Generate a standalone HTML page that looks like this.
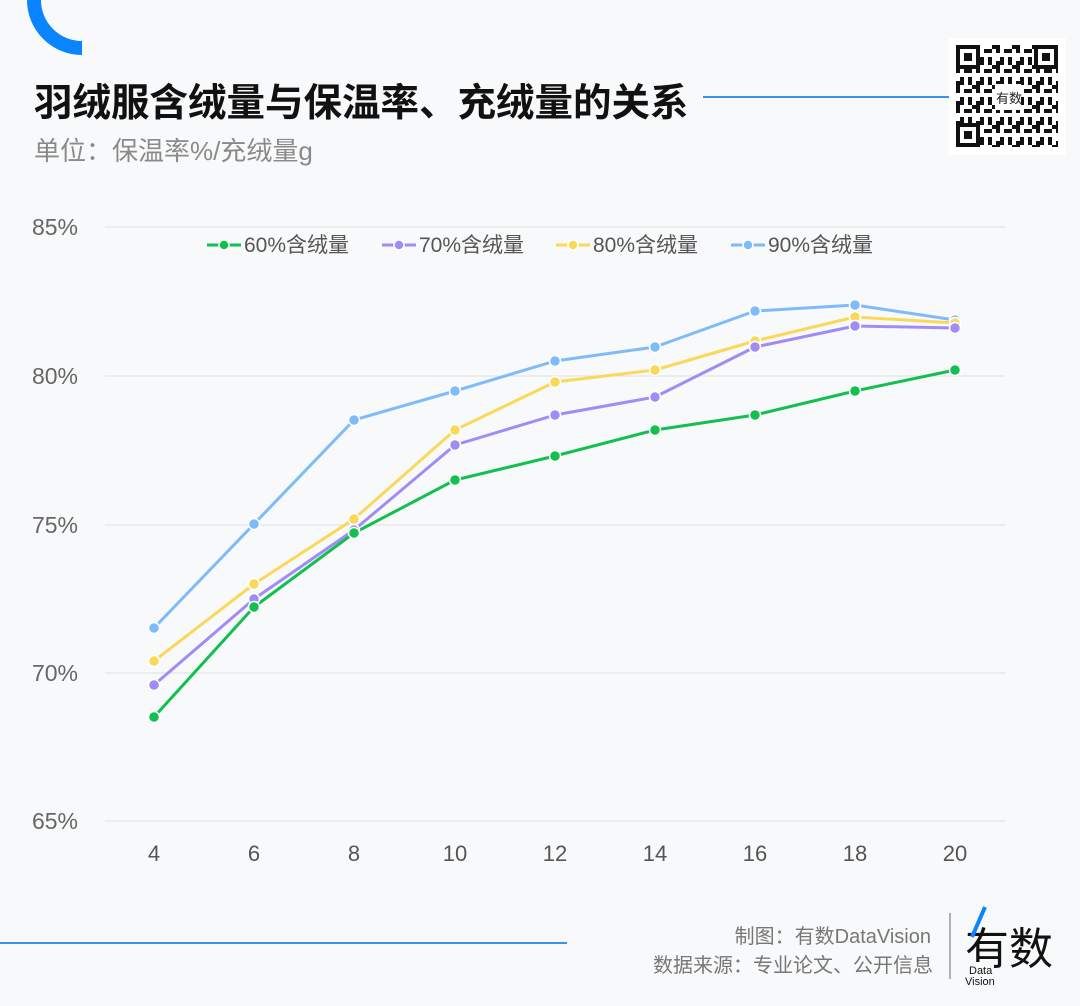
<!DOCTYPE html>
<html><head><meta charset="utf-8"><style>
html,body{margin:0;padding:0;background:#f8f9fa;}
body{width:1080px;height:1001px;overflow:hidden;position:relative;font-family:"Liberation Sans","Noto Sans CJK SC",sans-serif;}
</style></head><body>
<svg width="1080" height="1001" viewBox="0 0 1080 1001" xmlns="http://www.w3.org/2000/svg" font-family="Liberation Sans, Noto Sans CJK SC, sans-serif">
<rect width="1080" height="1001" fill="#f8f9fa"/>
<path d="M34,0 A48,48 0 0 0 82,48" fill="none" stroke="#0a84ff" stroke-width="14"/>
<text x="34" y="116" font-size="38.5" font-weight="bold" fill="#111">羽绒服含绒量与保温率、充绒量的关系</text>
<line x1="703" y1="97" x2="949" y2="97" stroke="#3c8ef0" stroke-width="2"/>
<text x="34" y="160" font-size="26" fill="#8a8a8a">单位：保温率%/充绒量g</text>
<rect x="949" y="38" width="117" height="117" fill="#fff"/>
<defs><pattern id="qr" x="956" y="45" width="20" height="20" patternUnits="userSpaceOnUse">
<rect x="0" y="0" width="4" height="8" fill="#111"/><rect x="8" y="4" width="8" height="4" fill="#111"/><rect x="12" y="12" width="4" height="8" fill="#111"/><rect x="4" y="12" width="4" height="4" fill="#111"/><rect x="16" y="0" width="4" height="4" fill="#111"/><rect x="0" y="16" width="8" height="4" fill="#111"/>
</pattern></defs>
<rect x="956" y="45" width="102" height="102" fill="url(#qr)"/>
<g fill="#fff" stroke="#111" stroke-width="4">
<rect x="958" y="47" width="20" height="20"/><rect x="1036" y="47" width="20" height="20"/><rect x="958" y="125" width="20" height="20"/></g>
<g fill="#111"><rect x="964" y="53" width="8" height="8"/><rect x="1042" y="53" width="8" height="8"/><rect x="964" y="131" width="8" height="8"/></g>
<rect x="995" y="84" width="26" height="26" fill="#fff"/><text x="996" y="103" font-size="13" fill="#222">有数</text>
<g stroke="#dedede" stroke-width="1">
<line x1="105" y1="227" x2="1005" y2="227"/><line x1="105" y1="376" x2="1005" y2="376"/><line x1="105" y1="525" x2="1005" y2="525"/><line x1="105" y1="673" x2="1005" y2="673"/><line x1="105" y1="821" x2="1005" y2="821"/>
</g>
<g font-size="23" fill="#666" text-anchor="end">
<text x="78" y="235">85%</text><text x="78" y="384">80%</text><text x="78" y="533">75%</text><text x="78" y="681">70%</text><text x="78" y="829">65%</text>
</g>
<g font-size="22" fill="#555" text-anchor="middle">
<text x="154" y="861">4</text><text x="254" y="861">6</text><text x="354" y="861">8</text><text x="455" y="861">10</text><text x="555" y="861">12</text><text x="655" y="861">14</text><text x="755" y="861">16</text><text x="855" y="861">18</text><text x="955" y="861">20</text>
</g>
<g font-size="21" fill="#555">
<line x1="207" y1="245" x2="241" y2="245" stroke="#12bf4f" stroke-width="3"/><circle cx="224" cy="245" r="5" fill="#12bf4f" stroke="#fff" stroke-width="1.5"/><text x="244" y="252">60%含绒量</text>
<line x1="382" y1="245" x2="416" y2="245" stroke="#a18cf5" stroke-width="3"/><circle cx="399" cy="245" r="5" fill="#a18cf5" stroke="#fff" stroke-width="1.5"/><text x="419" y="252">70%含绒量</text>
<line x1="556" y1="245" x2="590" y2="245" stroke="#fad95a" stroke-width="3"/><circle cx="573" cy="245" r="5" fill="#fad95a" stroke="#fff" stroke-width="1.5"/><text x="593" y="252">80%含绒量</text>
<line x1="731" y1="245" x2="765" y2="245" stroke="#7ebbf8" stroke-width="3"/><circle cx="748" cy="245" r="5" fill="#7ebbf8" stroke="#fff" stroke-width="1.5"/><text x="768" y="252">90%含绒量</text>
</g>
<g fill="none" stroke-width="3" stroke-linejoin="round">
<polyline stroke="#7ebbf8" points="154,628 254,524 354,420 455,391 555,361 655,347 755,311 855,305 955,320"/>
<polyline stroke="#fad95a" points="154,661 254,584 354,519 455,430 555,382 655,370 755,341 855,317 955,323"/>
<polyline stroke="#a18cf5" points="154,685 254,599 354,530 455,445 555,415 655,397 755,347 855,326 955,328"/>
<polyline stroke="#12bf4f" points="154,717 254,607 354,533 455,480 555,456 655,430 755,415 855,391 955,370"/>
</g>
<g stroke="#fff" stroke-width="1.5">
<g fill="#7ebbf8"><circle cx="154" cy="628" r="5.5"/><circle cx="254" cy="524" r="5.5"/><circle cx="354" cy="420" r="5.5"/><circle cx="455" cy="391" r="5.5"/><circle cx="555" cy="361" r="5.5"/><circle cx="655" cy="347" r="5.5"/><circle cx="755" cy="311" r="5.5"/><circle cx="855" cy="305" r="5.5"/><circle cx="955" cy="320" r="5.5"/></g>
<g fill="#fad95a"><circle cx="154" cy="661" r="5.5"/><circle cx="254" cy="584" r="5.5"/><circle cx="354" cy="519" r="5.5"/><circle cx="455" cy="430" r="5.5"/><circle cx="555" cy="382" r="5.5"/><circle cx="655" cy="370" r="5.5"/><circle cx="755" cy="341" r="5.5"/><circle cx="855" cy="317" r="5.5"/><circle cx="955" cy="323" r="5.5"/></g>
<g fill="#a18cf5"><circle cx="154" cy="685" r="5.5"/><circle cx="254" cy="599" r="5.5"/><circle cx="354" cy="530" r="5.5"/><circle cx="455" cy="445" r="5.5"/><circle cx="555" cy="415" r="5.5"/><circle cx="655" cy="397" r="5.5"/><circle cx="755" cy="347" r="5.5"/><circle cx="855" cy="326" r="5.5"/><circle cx="955" cy="328" r="5.5"/></g>
<g fill="#12bf4f"><circle cx="154" cy="717" r="5.5"/><circle cx="254" cy="607" r="5.5"/><circle cx="354" cy="533" r="5.5"/><circle cx="455" cy="480" r="5.5"/><circle cx="555" cy="456" r="5.5"/><circle cx="655" cy="430" r="5.5"/><circle cx="755" cy="415" r="5.5"/><circle cx="855" cy="391" r="5.5"/><circle cx="955" cy="370" r="5.5"/></g>
</g>
<line x1="0" y1="943" x2="567" y2="943" stroke="#3c8ef0" stroke-width="2"/>
<g font-size="20" fill="#777" text-anchor="end">
<text x="931" y="943">制图：有数DataVision</text>
<text x="933" y="972">数据来源：专业论文、公开信息</text>
</g>
<line x1="950" y1="913" x2="950" y2="979" stroke="#999" stroke-width="1.5"/>
<text x="965" y="964" font-size="44" fill="#111">有数</text>
<line x1="985" y1="907" x2="972" y2="937" stroke="#0a84ff" stroke-width="4"/>
<rect x="966" y="962" width="28" height="24" fill="#f8f9fa"/>
<text x="969" y="974" font-size="11" fill="#111">Data</text>
<text x="965" y="985" font-size="11" fill="#111">Vision</text>
</svg>
</body></html>
